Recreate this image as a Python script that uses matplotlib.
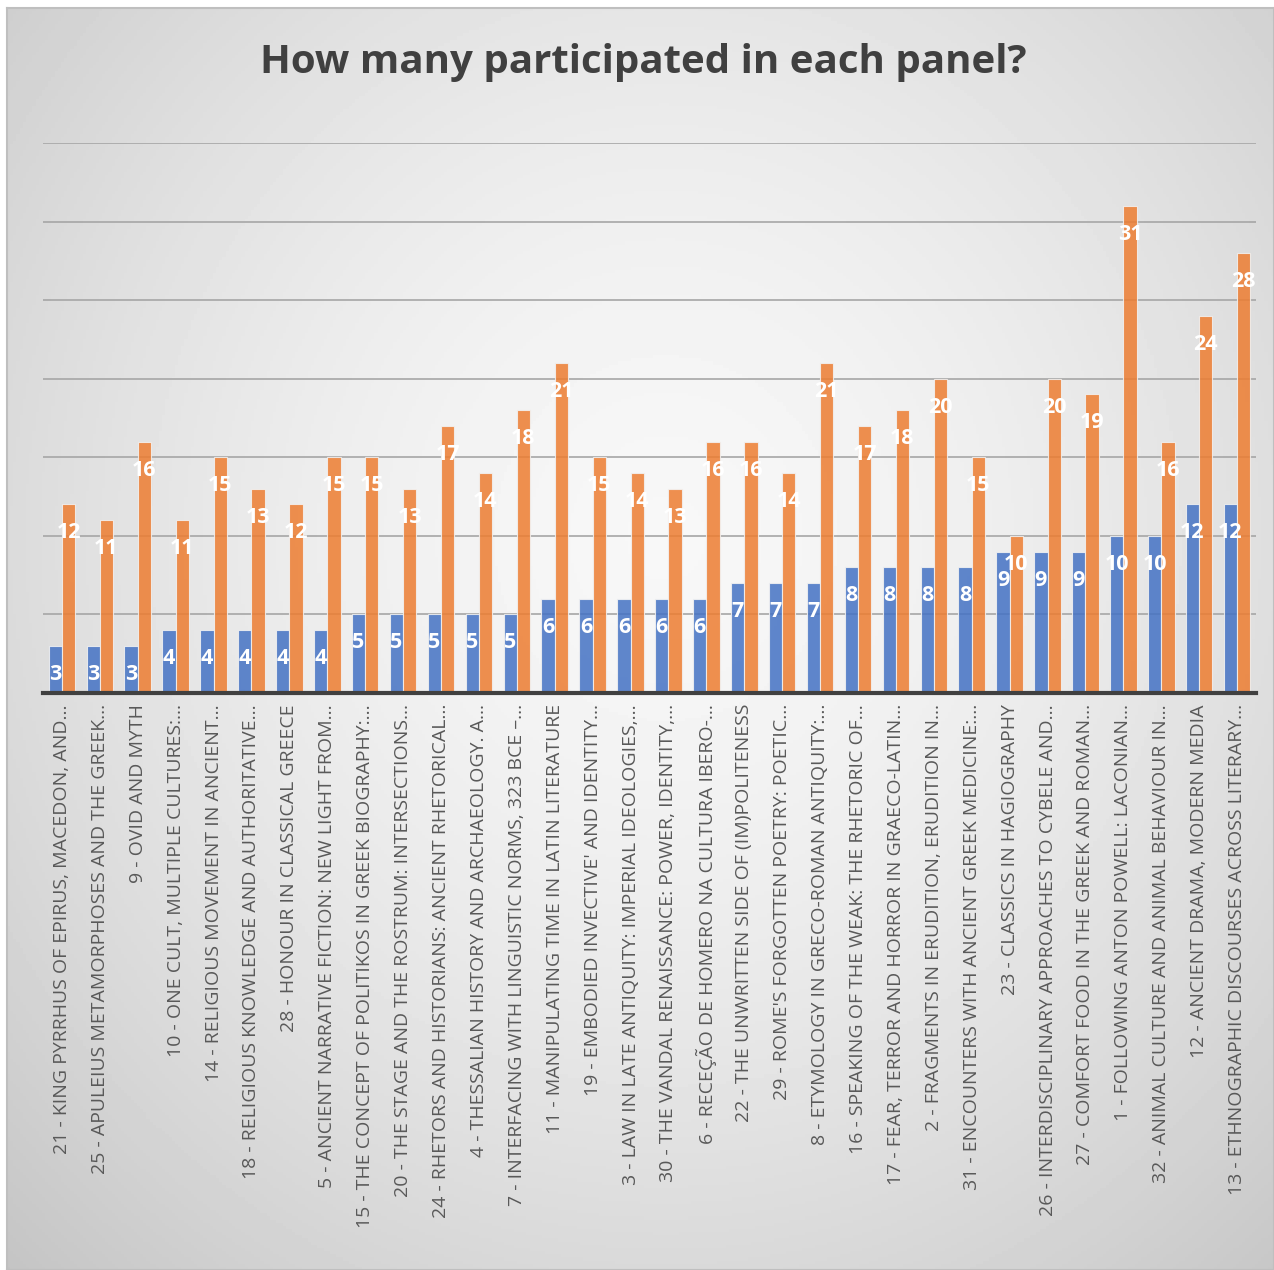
import numpy as np
import matplotlib.pyplot as plt

# --------------------------------
# Data
# --------------------------------

panels = [
    "21 - KING PYRRHUS OF EPIRUS, MACEDON, AND…",
    "25 - APULEIUS METAMORPHOSES AND THE GREEK…",
    "9 - OVID AND MYTH",
    "10 - ONE CULT, MULTIPLE CULTURES:…",
    "14 - RELIGIOUS MOVEMENT IN ANCIENT…",
    "18 - RELIGIOUS KNOWLEDGE AND AUTHORITATIVE…",
    "28 - HONOUR IN CLASSICAL GREECE",
    "5 - ANCIENT NARRATIVE FICTION: NEW LIGHT FROM…",
    "15 - THE CONCEPT OF POLITIKOS IN GREEK BIOGRAPHY:…",
    "20 - THE STAGE AND THE ROSTRUM: INTERSECTIONS…",
    "24 - RHETORS AND HISTORIANS: ANCIENT RHETORICAL…",
    "4 - THESSALIAN HISTORY AND ARCHAEOLOGY. A…",
    "7 - INTERFACING WITH LINGUISTIC NORMS, 323 BCE –…",
    "11 - MANIPULATING TIME IN LATIN LITERATURE",
    "19 - EMBODIED INVECTIVE' AND IDENTITY…",
    "3 - LAW IN LATE ANTIQUITY: IMPERIAL IDEOLOGIES,…",
    "30 - THE VANDAL RENAISSANCE: POWER, IDENTITY,…",
    "6 - RECEÇÃO DE HOMERO NA CULTURA IBERO-…",
    "22 - THE UNWRITTEN SIDE OF (IM)POLITENESS",
    "29 - ROME'S FORGOTTEN POETRY: POETIC…",
    "8 - ETYMOLOGY IN GRECO-ROMAN ANTIQUITY:…",
    "16 - SPEAKING OF THE WEAK: THE RHETORIC OF…",
    "17 - FEAR, TERROR AND HORROR IN GRAECO-LATIN…",
    "2 - FRAGMENTS IN ERUDITION, ERUDITION IN…",
    "31 - ENCOUNTERS WITH ANCIENT GREEK MEDICINE:…",
    "23 - CLASSICS IN HAGIOGRAPHY",
    "26 - INTERDISCIPLINARY APPROACHES TO CYBELE AND…",
    "27 - COMFORT FOOD IN THE GREEK AND ROMAN…",
    "1 - FOLLOWING ANTON POWELL: LACONIAN…",
    "32 - ANIMAL CULTURE AND ANIMAL BEHAVIOUR IN…",
    "12 - ANCIENT DRAMA, MODERN MEDIA",
    "13 - ETHNOGRAPHIC DISCOURSES ACROSS LITERARY…",
]

series_blue = [3, 3, 3, 4, 4, 4, 4, 4, 5, 5, 5, 5, 5, 6, 6, 6,
               6, 6, 7, 7, 7, 8, 8, 8, 8, 9, 9, 9, 10, 10, 12, 12]
series_orange = [12, 11, 16, 11, 15, 13, 12, 15, 15, 13, 17, 14, 18, 21, 15, 14,
                 13, 16, 16, 14, 21, 17, 18, 20, 15, 10, 20, 19, 31, 16, 24, 28]

title = "How many participated in each panel?"

# --------------------------------
# Figure + gradient background
# --------------------------------

fig = plt.figure(figsize=(12.74, 12.70), dpi=100)

bg = fig.add_axes([7 / 1274, 0, 1 - 7 / 1274, 1 - 8 / 1270])
yy, xx = np.mgrid[0:1:400j, 0:1:400j]
r = np.sqrt(((xx - 0.52) / 0.75) ** 2 + ((yy - 0.42) / 0.8) ** 2)
shade = 0.97 - 0.2 * np.clip(r, 0, 1.2) ** 1.6
bg.imshow(shade, cmap="gray", vmin=0, vmax=1, extent=[0, 1, 0, 1],
          aspect="auto", origin="upper")
bg.set_xticks([])
bg.set_yticks([])
for s in bg.spines.values():
    s.set_color("#bfbfbf")
    s.set_linewidth(1.5)

# --------------------------------
# Bars
# --------------------------------

ax = fig.add_axes([43 / 1274, (1270 - 693) / 1270, (1256 - 43) / 1274, 550 / 1270])
ax.set_facecolor("none")

x = np.arange(len(panels))
w = 0.35
b1 = ax.bar(x - w / 2, series_blue, w, color="#4472C4", alpha=0.85,
            edgecolor="#f2f2f2", linewidth=0.8, zorder=3)
b2 = ax.bar(x + w / 2, series_orange, w, color="#ED7D31", alpha=0.85,
            edgecolor="#f2f2f2", linewidth=0.8, zorder=3)

for bars in (b1, b2):
    ax.bar_label(bars, labels=[str(v) for v in bars.datavalues], padding=-13,
                 label_type="edge", color="white", fontsize=15.5,
                 fontweight="bold", family="Open Sans", zorder=4)
# negative padding + top alignment keeps the value inside the bar top
for t in ax.texts:
    t.set_va("top")

ax.set_xlim(-0.5, len(panels) - 0.5)
ax.set_ylim(0, 35)
ax.set_yticks(np.arange(5, 36, 5))
ax.set_yticklabels([])
ax.tick_params(axis="y", length=0)
ax.grid(axis="y", color="#a6a6a6", linewidth=1.2, zorder=0)

ax.set_xticks(x)
ax.set_xticklabels(panels, rotation=90, fontsize=14, color="#595959",
                   family="Open Sans", va="top", ha="center")
ax.tick_params(axis="x", length=0, pad=8)

for side in ("top", "right", "left"):
    ax.spines[side].set_visible(False)
ax.spines["bottom"].set_color("#404040")
ax.spines["bottom"].set_linewidth(3)
ax.spines["bottom"].set_zorder(5)

fig.text(0.505, 1 - 62 / 1270, title, ha="center", va="center",
         fontsize=29, fontweight="bold", color="#404040", family="Open Sans")

plt.savefig("out.png", dpi=100)
